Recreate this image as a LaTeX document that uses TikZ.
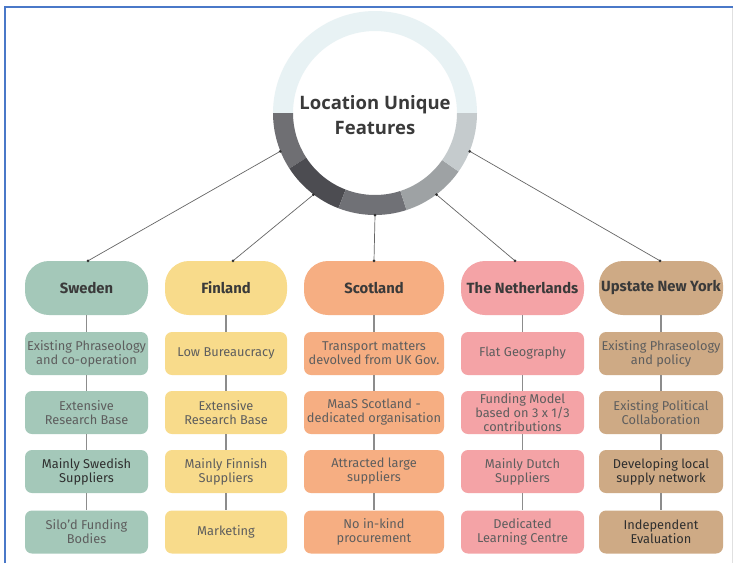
\documentclass[tikz,border=0pt]{standalone}
\usepackage{fontspec}
\setmainfont{Fira Sans}
\newfontfamily\titlefont{Open Sans}
\usetikzlibrary{calc}
\definecolor{swe}{HTML}{A4C8B9}
\definecolor{fin}{HTML}{F8DB8B}
\definecolor{sco}{HTML}{F6AE82}
\definecolor{ned}{HTML}{F4A3A6}
\definecolor{ups}{HTML}{CEAA85}
\definecolor{txtg}{HTML}{5E5E5E}
\definecolor{txtd}{HTML}{2F2F2F}
\definecolor{hdrtxt}{HTML}{3A3A3A}
\definecolor{linec}{HTML}{8C8C8C}
\definecolor{bordc}{HTML}{4A78C8}
\definecolor{ringlight}{HTML}{E8F2F4}
\definecolor{ringa}{HTML}{6F6F73}
\definecolor{ringb}{HTML}{4C4C51}
\definecolor{ringc}{HTML}{707176}
\definecolor{ringd}{HTML}{9EA2A4}
\definecolor{ringe}{HTML}{C5CBCD}
\newcommand\ringseg[3]{\fill[#3] (#1:102pt) arc[start angle=#1,end angle=#2,radius=102pt] -- (#2:82pt) arc[start angle=#2,end angle=#1,radius=82pt] -- cycle;}
\begin{document}
\begin{tikzpicture}[x=1pt,y=-1pt,
 hdr/.style={rounded corners=24pt, minimum height=54pt, inner sep=0pt, font=\fontsize{14.8}{17}\selectfont\bfseries, text=hdrtxt},
 sub/.style={rounded corners=7pt, minimum height=43pt, inner sep=0pt, align=center, font=\fontsize{12.8}{14}\selectfont, text=txtg},
 dark/.style={text=txtd},
 link/.style={draw=linec, line width=1.1pt},
 spoke/.style={draw=black!60, line width=0.7pt},
 dotc/.style={fill=black!80}]
\useasboundingbox (0,0) rectangle (733,563);
\fill[white] (0,0) rectangle (733,563);
\draw[bordc, line width=2pt] (5,563) -- (5,7) -- (733,7);
\draw[black!12, line width=0.6pt] (732.5,8) -- (732.5,563);
% ring
\begin{scope}[shift={(375,113)}]
\ringseg{0}{180}{ringlight}
\ringseg{180}{213}{ringa}
\ringseg{213}{249}{ringb}
\ringseg{249}{288}{ringc}
\ringseg{288}{325}{ringd}
\ringseg{325}{360}{ringe}
\end{scope}
\node[circle, minimum size=204pt, inner sep=0pt] (ring) at (375,113) {};
\node[font=\titlefont\fontsize{18.5}{25}\selectfont\bfseries, text=hdrtxt, align=center] (title) at (375,115) {Location Unique\\Features};
% headers
\node[hdr, fill=swe, minimum width=123pt] (swe) at (86.5,288) {Sweden};
\node[hdr, fill=fin, minimum width=122pt] (fin) at (226,288) {Finland};
\node[hdr, fill=sco, minimum width=140pt] (sco) at (374,288) {Scotland};
\node[hdr, fill=ned, minimum width=123pt] (ned) at (522.5,288) {The Netherlands};
\node[hdr, fill=ups, minimum width=124pt] (ups) at (661,288) {Upstate New York};
% Sweden
\node[sub, fill=swe, minimum width=123pt] (swe1) at (86.5,353.5) {Existing Phraseology\\and co-operation};
\node[sub, fill=swe, minimum width=123pt] (swe2) at (86.5,412.5) {Extensive\\Research Base};
\node[sub, dark, fill=swe, minimum width=123pt] (swe3) at (86.5,471.5) {Mainly Swedish\\Suppliers};
\node[sub, fill=swe, minimum width=123pt] (swe4) at (86.5,532) {Silo’d Funding\\Bodies};
% Finland
\node[sub, fill=fin, minimum width=122pt] (fin1) at (226,353.5) {Low Bureaucracy};
\node[sub, fill=fin, minimum width=122pt] (fin2) at (226,412.5) {Extensive\\Research Base};
\node[sub, fill=fin, minimum width=122pt] (fin3) at (226,471.5) {Mainly Finnish\\Suppliers};
\node[sub, fill=fin, minimum width=122pt] (fin4) at (226,532) {Marketing};
% Scotland
\node[sub, fill=sco, minimum width=140pt] (sco1) at (374,353.5) {Transport matters\\devolved from UK Gov.};
\node[sub, fill=sco, minimum width=140pt] (sco2) at (374,412.5) {MaaS Scotland -\\dedicated organisation};
\node[sub, fill=sco, minimum width=140pt] (sco3) at (374,471.5) {Attracted large\\suppliers};
\node[sub, fill=sco, minimum width=140pt] (sco4) at (374,532) {No in-kind\\procurement};
% Netherlands
\node[sub, fill=ned, minimum width=123pt] (ned1) at (522.5,353.5) {Flat Geography};
\node[sub, fill=ned, minimum width=123pt] (ned2) at (522.5,412.5) {Funding Model\\based on 3 x 1/3\\contributions};
\node[sub, fill=ned, minimum width=123pt] (ned3) at (522.5,471.5) {Mainly Dutch\\Suppliers};
\node[sub, fill=ned, minimum width=123pt] (ned4) at (522.5,532) {Dedicated\\Learning Centre};
% Upstate
\node[sub, fill=ups, minimum width=124pt] (ups1) at (661,353.5) {Existing Phraseology\\and policy};
\node[sub, fill=ups, minimum width=124pt] (ups2) at (661,412.5) {Existing Political\\Collaboration};
\node[sub, dark, fill=ups, minimum width=124pt] (ups3) at (661,471.5) {Developing local\\supply network};
\node[sub, dark, fill=ups, minimum width=124pt] (ups4) at (661,532) {Independent\\Evaluation};
% vertical links
\foreach \c in {swe,fin,sco,ned,ups}{
  \draw[link] (\c) -- (\c1);
  \draw[link] (\c1) -- (\c2);
  \draw[link] (\c2) -- (\c3);
  \draw[link] (\c3) -- (\c4);
}
% spokes
\coordinate (rS) at (ring.202);
\coordinate (rF) at (ring.233);
\coordinate (rC) at (ring.270);
\coordinate (rN) at (ring.307);
\coordinate (rU) at (ring.338);
\coordinate (hS) at ($(swe.north)+(1.5,0)$);
\coordinate (hF) at ($(fin.north)+(7,0)$);
\coordinate (hC) at (sco.north);
\coordinate (hN) at ($(ned.north)+(-7.5,0)$);
\coordinate (hU) at ($(ups.north)+(-1,0)$);
\foreach \a/\b in {rS/hS,rF/hF,rC/hC,rN/hN,rU/hU}{
  \draw[spoke] (\a) -- (\b);
  \fill[dotc] (\a) circle[radius=1.5pt];
  \fill[dotc] (\b) circle[radius=1.5pt];
}
\end{tikzpicture}
\end{document}
